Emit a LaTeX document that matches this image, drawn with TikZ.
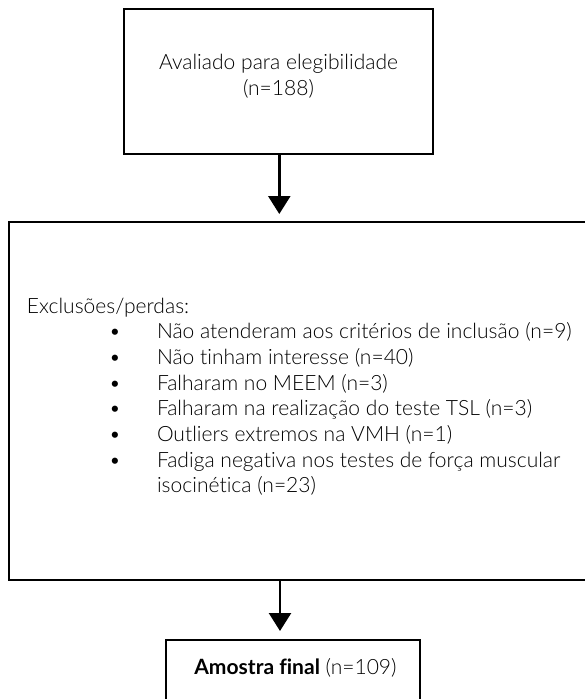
\documentclass[tikz,border=0pt]{standalone}
\usepackage{fontspec}
\setmainfont{Lato Light}[BoldFont={Lato Bold}, Ligatures={NoCommon}]
\usetikzlibrary{arrows.meta}
\newlength\reflen
\newsavebox\refbox
\begin{document}
\sbox\refbox{\fontsize{10pt}{12pt}\selectfont Avaliado para elegibilidade}%
\setlength\reflen{\wd\refbox}%
\pgfmathsetmacro\fsz{10*239/\reflen}%
\def\txtfont{\fontsize{\fsz pt}{26pt}\selectfont}%
\begin{tikzpicture}[x=1pt,y=-1pt,
  boxstyle/.style={draw=black, line width=2.5pt, inner sep=0pt, outer sep=0pt},
  arr/.style={line width=2.5pt, -{Triangle[width=22pt,length=18pt]}},
  txtstyle/.style={inner sep=0pt, outer sep=0pt, text=black, font=\txtfont}]
\useasboundingbox (0,0) rectangle (585,699);
\fill[white] (0,0) rectangle (585,699);
% boxes
\node[boxstyle, minimum width=309pt, minimum height=145pt] (top) at (278.5,81.5) {};
\node[boxstyle, minimum width=578pt, minimum height=358pt] (mid) at (298,401) {};
\node[boxstyle, minimum width=254pt, minimum height=61pt] (bot) at (293,670.5) {};
% arrows
\coordinate (a1) at (279.3,0);
\coordinate (a2) at (280,0);
\draw[arr, shorten >=8pt] (top.south -| a1) -- (mid.north -| a1);
\draw[arr, shorten >=9pt] (mid.south -| a2) -- (bot.north -| a2);
% texts
\node[txtstyle, align=center] (toptxt) at (278.5,76) {Avaliado para elegibilidade\\(n=188)};
\node[txtstyle, anchor=base west] (exc) at (27,313) {Exclusões/perdas:};
\foreach \i/\t in {1/{Não atenderam aos critérios de inclusão (n=9)},
                   2/{Não tinham interesse (n=40)},
                   3/{Falharam no MEEM (n=3)},
                   4/{Falharam na realização do teste TSL (n=3)},
                   5/{Outliers extremos na VMH (n=1)},
                   6/{Fadiga negativa nos testes de força muscular}} {
  \node[txtstyle, anchor=base] (b\i) at (115,313+25.7*\i) {•};
  \node[txtstyle, anchor=base west] (it\i) at (157,313+25.7*\i) {\t};
}
\node[txtstyle, anchor=base west] (it7) at (157,313+25.7*7) {isocinética (n=23)};
\node[txtstyle] (bottxt) at (295.5,668) {\textbf{Amostra final} (n=109)};
\end{tikzpicture}
\end{document}
